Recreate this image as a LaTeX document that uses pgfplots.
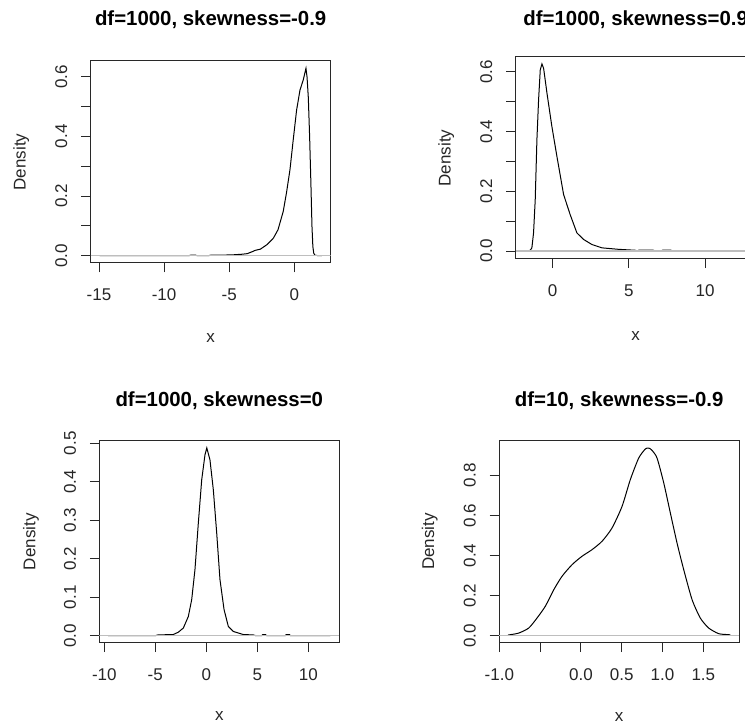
\documentclass[border=0pt]{standalone}
\usepackage{fontspec}
\setmainfont{Liberation Sans}
\usepackage{pgfplots}
\pgfplotsset{compat=1.18}
\definecolor{zline}{RGB}{190,190,190}
\definecolor{frame}{RGB}{40,40,40}
\newcommand{\tfont}{\fontsize{17}{20}\selectfont}
\newcommand{\hfont}{\fontsize{20.4}{24}\selectfont\bfseries}
\pgfplotsset{rpanel/.style={scale only axis, width=240pt, height=202pt, anchor=north west,
  axis line style={frame, line width=1pt}, tick pos=left, tick align=outside,
  major tick length=9.5pt, tick style={frame, line width=1pt}, minor tick num=0,
  xticklabel style={font=\tfont, anchor=base, text=black!85}, xticklabel shift=28.5pt,
  yticklabel style={font=\tfont, rotate=90, anchor=base, text=black!85}, yticklabel shift=14pt,
  cycle list={{black, line width=1pt}}, no markers}}

\begin{document}
\begin{tikzpicture}
\useasboundingbox (0pt,0pt) rectangle (745pt,726pt);
\clip (0pt,0pt) rectangle (745pt,726pt);

% top left: df=1000, skewness=-0.9
\begin{axis}[rpanel, at={(90.7pt,665pt)}, xmin=-15.64, xmax=2.80, ymin=-0.0244, ymax=0.6525,
  xtick={-15,-10,-5,0}, xticklabels={-15,-10,-5,0},
  ytick={0,0.1,0.2,0.3,0.4,0.5,0.6}, yticklabels={0.0,,0.2,,0.4,,0.6}]
\addplot[black, line width=1pt] coordinates {(-14.96,0) (-9,0) (-8.1,0) (-7.95,0.002) (-7.6,0.002) (-7.45,0)
  (-6.6,0) (-6.4,0.002) (-5.5,0.002) (-4.7,0.003) (-4.0,0.005) (-3.6,0.007) (-3.2,0.014)
  (-3.0,0.018) (-2.6,0.022) (-2.1,0.037) (-1.6,0.059) (-1.25,0.087) (-0.85,0.148)
  (-0.6,0.21) (-0.33,0.288) (-0.08,0.388) (0.18,0.488) (0.44,0.555) (0.69,0.589)
  (0.9,0.628) (0.98,0.60) (1.08,0.53) (1.18,0.40) (1.28,0.24) (1.36,0.10) (1.43,0.03)
  (1.5,0.008) (1.6,0.001) (2.12,0)};
\addplot[zline, line width=1.3pt] coordinates {(-15.64,0) (2.80,0)};
\end{axis}

% top right: df=1000, skewness=0.9
\begin{axis}[rpanel, at={(515.7pt,669.3pt)}, xmin=-2.42, xmax=13.31, ymin=-0.0253, ymax=0.65,
  xtick={0,5,10,15}, xticklabels={0,5,10,15},
  ytick={0,0.1,0.2,0.3,0.4,0.5,0.6}, yticklabels={0.0,,0.2,,0.4,,0.6}]
\addplot[black, line width=1pt] coordinates {(-1.84,0) (-1.6,0) (-1.45,0.004) (-1.36,0.011) (-1.25,0.061)
  (-1.14,0.172) (-1.03,0.372) (-0.92,0.506) (-0.81,0.606) (-0.70,0.626) (-0.59,0.611)
  (-0.37,0.528) (-0.05,0.417) (0.28,0.317) (0.72,0.189) (1.15,0.122) (1.59,0.061)
  (2.03,0.039) (2.58,0.022) (3.23,0.011) (4.32,0.006) (5.4,0.003) (5.55,0.001)
  (5.65,0.003) (6.6,0.003) (6.75,0.0005) (7.1,0.0005) (7.2,0.003) (7.75,0.003)
  (7.9,0) (12.73,0)};
\addplot[zline, line width=1.3pt] coordinates {(-2.42,0) (13.31,0)};
\end{axis}

% bottom left: df=1000, skewness=0
\begin{axis}[rpanel, at={(99.3pt,285pt)}, height=201.7pt, xmin=-10.49, xmax=13.04,
  ymin=-0.0182, ymax=0.506,
  xtick={-10,-5,0,5,10}, xticklabels={-10,-5,0,5,10},
  ytick={0,0.1,0.2,0.3,0.4,0.5}, yticklabels={0.0,0.1,0.2,0.3,0.4,0.5}]
\addplot[black, line width=1pt] coordinates {(-9.62,0) (-5,0) (-4.75,0.002) (-3.24,0.003) (-2.75,0.009)
  (-2.25,0.02) (-1.76,0.05) (-1.43,0.094) (-1.11,0.172) (-0.78,0.293) (-0.45,0.405)
  (-0.13,0.47) (0.05,0.488) (0.36,0.457) (0.69,0.379) (1.02,0.267) (1.34,0.146)
  (1.74,0.068) (2.16,0.024) (2.65,0.011) (3.63,0.003) (4.6,0.002) (4.8,0.0005)
  (5.45,0.0005) (5.55,0.003) (5.8,0.003) (5.9,0.0005) (7.75,0.0005) (7.85,0.003)
  (8.15,0.003) (8.25,0) (12.17,0)};
\addplot[zline, line width=1.3pt] coordinates {(-10.49,0) (13.04,0)};
\end{axis}

% bottom right: df=10, skewness=-0.9
\begin{axis}[rpanel, at={(499pt,285.7pt)}, width=240.3pt, height=202.4pt,
  xmin=-1.004, xmax=1.941, ymin=-0.035, ymax=0.9746,
  xtick={-1,-0.5,0,0.5,1,1.5}, xticklabels={-1.0,,0.0,0.5,1.0,1.5},
  ytick={0,0.2,0.4,0.6,0.8}, yticklabels={0.0,0.2,0.4,0.6,0.8}]
\addplot[black, line width=1pt, smooth, tension=0.4] coordinates {(-0.895,0.003) (-0.865,0.005) (-0.762,0.013)
  (-0.64,0.038) (-0.538,0.088) (-0.436,0.147) (-0.333,0.229) (-0.232,0.296)
  (-0.109,0.354) (0.013,0.396) (0.136,0.429) (0.259,0.471) (0.381,0.537) (0.504,0.645)
  (0.605,0.778) (0.708,0.886) (0.789,0.931) (0.83,0.936) (0.87,0.925) (0.933,0.886)
  (1.015,0.762) (1.096,0.612) (1.178,0.462) (1.26,0.329) (1.362,0.18) (1.463,0.088)
  (1.566,0.038) (1.689,0.01) (1.81,0.005) (1.832,0.004)};
\addplot[zline, line width=1.3pt] coordinates {(-1.004,0) (1.941,0)};
\end{axis}

% titles and axis labels
\node[font=\hfont, anchor=base] at (210.7pt,700pt) {df=1000, skewness=-0.9};
\node[font=\hfont, anchor=base] at (635.7pt,700pt) {df=1000, skewness=0.9};
\node[font=\hfont, anchor=base] at (219.3pt,319.3pt) {df=1000, skewness=0};
\node[font=\hfont, anchor=base] at (619.2pt,319.3pt) {df=10, skewness=-0.9};
\node[font=\tfont, text=black!85, anchor=base] at (210.7pt,383pt) {x};
\node[font=\tfont, text=black!85, anchor=base] at (635.7pt,385pt) {x};
\node[font=\tfont, text=black!85, anchor=base] at (219.3pt,5pt) {x};
\node[font=\tfont, text=black!85, anchor=base] at (619.2pt,4pt) {x};
\node[font=\tfont, text=black!85, anchor=base, rotate=90] at (25.7pt,563.9pt) {Density};
\node[font=\tfont, text=black!85, anchor=base, rotate=90] at (450.7pt,568pt) {Density};
\node[font=\tfont, text=black!85, anchor=base, rotate=90] at (35.3pt,184.2pt) {Density};
\node[font=\tfont, text=black!85, anchor=base, rotate=90] at (434pt,184.5pt) {Density};
\end{tikzpicture}
\end{document}
